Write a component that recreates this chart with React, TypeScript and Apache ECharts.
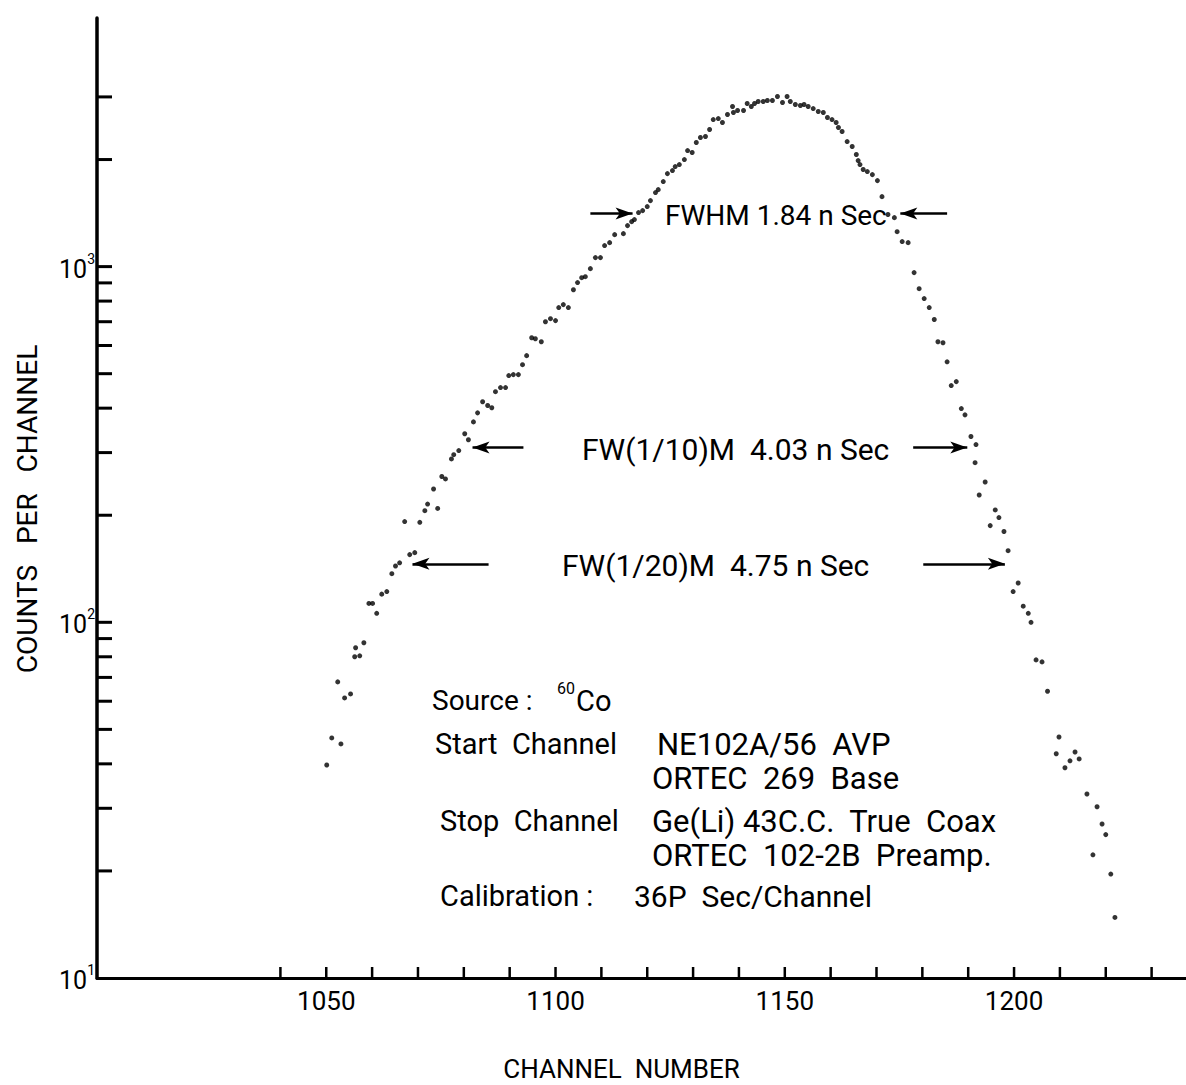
import React, { useEffect, useRef } from "react";
import * as echarts from "echarts";

// Time spectrum of 60Co coincidences: counts per channel versus channel number
const channels = [
  1050.1, 1051.2, 1052.5, 1053.2, 1054.0, 1055.3, 1056.2, 1056.4, 1057.3, 1058.2,
  1059.3, 1060.1, 1061.0, 1062.1, 1063.2, 1064.3, 1065.1, 1066.0, 1067.1, 1068.2,
  1069.3, 1070.4, 1071.5, 1072.1, 1073.4, 1074.3, 1075.2, 1076.0, 1077.3, 1077.8,
  1078.9, 1080.2, 1081.0, 1082.1, 1083.0, 1084.1, 1085.2, 1086.1, 1086.9, 1088.0,
  1089.1, 1089.8, 1090.8, 1091.9, 1092.8, 1093.7, 1094.8, 1095.6, 1096.9, 1097.8,
  1098.9, 1100.0, 1100.7, 1101.7, 1102.8, 1103.9, 1104.8, 1105.7, 1106.5, 1107.6,
  1108.7, 1109.8, 1110.7, 1111.8, 1112.9, 1114.8, 1115.7, 1116.6, 1117.2, 1118.1,
  1119.0, 1120.0, 1120.7, 1121.8, 1122.4, 1123.5, 1124.4, 1125.5, 1126.1, 1127.0,
  1128.1, 1128.8, 1129.8, 1130.7, 1131.6, 1132.7, 1133.6, 1134.4, 1135.5, 1136.4,
  1137.5, 1138.6, 1138.8, 1139.7, 1141.0, 1141.8, 1142.7, 1143.4, 1144.2, 1145.3,
  1146.2, 1147.3, 1148.4, 1149.5, 1150.5, 1151.2, 1152.3, 1153.4, 1154.2, 1155.1,
  1156.2, 1157.3, 1158.4, 1159.3, 1160.3, 1161.2, 1161.7, 1162.5, 1163.6, 1164.7,
  1165.6, 1166.0, 1166.4, 1167.1, 1168.0, 1169.1, 1170.2, 1171.2, 1172.5, 1173.9,
  1174.5, 1175.6, 1176.9, 1178.2, 1179.3, 1180.4, 1181.5, 1182.6, 1183.4, 1184.5,
  1185.4, 1186.3, 1187.4, 1188.5, 1189.3, 1190.6, 1191.5, 1191.7, 1192.4, 1193.7,
  1194.8, 1195.9, 1196.7, 1197.8, 1198.7, 1199.8, 1200.9, 1202.0, 1203.1, 1203.7,
  1204.8, 1206.1, 1207.3, 1209.2, 1209.8, 1211.1, 1212.2, 1213.3, 1214.2, 1215.9,
  1217.2, 1218.1, 1219.2, 1220.0, 1221.1, 1222.0,
];

const counts = [
  39.7, 47.3, 68.0, 45.5, 61.3, 62.9, 80.0, 84.8, 80.5, 87.6,
  113, 113, 106, 120, 122, 137, 144, 147, 192, 155,
  157, 191, 206, 215, 237, 209, 257, 253, 288, 296,
  304, 339, 326, 366, 388, 417, 407, 401, 445, 457,
  457, 494, 497, 497, 530, 562, 631, 627, 615, 700,
  714, 705, 767, 782, 767, 861, 902, 931, 937, 987,
  1060, 1060, 1146, 1168, 1230, 1238, 1304, 1338, 1356, 1419,
  1437, 1475, 1533, 1615, 1646, 1734, 1826, 1862, 1911, 1936,
  2000, 2120, 2093, 2233, 2307, 2322, 2429, 2591, 2608, 2542,
  2677, 2819, 2712, 2748, 2748, 2874, 2819, 2874, 2912, 2912,
  2931, 2931, 3008, 2893, 3008, 2912, 2856, 2837, 2856, 2819,
  2782, 2729, 2712, 2625, 2591, 2542, 2461, 2398, 2247, 2176,
  2066, 1987, 1936, 1875, 1850, 1814, 1745, 1573, 1401, 1373,
  1254, 1176, 1168, 962, 867, 813, 767, 710, 615, 611,
  540, 463, 475, 399, 383, 333, 281, 316, 228, 248,
  187, 207, 197, 180, 159, 122, 129, 111, 106, 100,
  78.4, 77.4, 64.0, 42.7, 47.6, 39.0, 40.8, 43.2, 41.3, 32.9,
  22.2, 30.3, 27.1, 25.3, 19.6, 14.8,
];

// Inward tick marks on both axes
const yTickValues = [
  20, 30, 40, 50, 60, 70, 80, 90, 100,
  200, 300, 400, 500, 600, 700, 800, 900, 1000,
  2000, 3000,
];
const xTickValues = [
  1040, 1050, 1060, 1070, 1080, 1090, 1100, 1110, 1120, 1130,
  1140, 1150, 1160, 1170, 1180, 1190, 1200, 1210, 1220, 1230,
];
const xLabelValues = [1050, 1100, 1150, 1200];
const yLabelValues = [10, 100, 1000];

// Width markers: [from channel, to channel (arrow tip), count level]
const widthArrows = [
  [1107.6, 1116.8, 1410],
  [1185.4, 1175.2, 1410],
  [1093.0, 1081.9, 310],
  [1178.0, 1189.8, 310],
  [1085.4, 1068.8, 146],
  [1180.2, 1198.0, 146],
];

const FONT = "Roboto, 'DejaVu Sans', sans-serif";
const X_MIN = 1000;
const X_MAX = 1237.5;
const Y_MIN = 10;
const Y_MAX = 5000;

function txt(text: string, x: number, y: number, size: number) {
  return {
    type: "text",
    x,
    y,
    silent: true,
    style: {
      text,
      fill: "#000",
      fontSize: size,
      fontFamily: FONT,
      textAlign: "left",
      textVerticalAlign: "middle",
    },
  };
}

export default function App() {
  const ref = useRef<HTMLDivElement>(null);

  useEffect(() => {
    if (!ref.current) return;
    const chart = echarts.init(ref.current, null, { renderer: "svg" });

    const points = channels.map((c, i) => [c, counts[i]]);

    chart.setOption({
      animation: false,
      backgroundColor: "#fff",
      grid: {
        left: 97,
        right: 0,
        top: 18,
        bottom: 107,
        containLabel: false,
        outerBoundsMode: "none",
      },
      xAxis: {
        type: "value",
        min: X_MIN,
        max: X_MAX,
        interval: 50,
        name: "CHANNEL  NUMBER",
        nameLocation: "middle",
        nameGap: 78,
        nameTextStyle: {
          color: "#000",
          fontSize: 26,
          fontFamily: FONT,
          padding: [0, 40, 0, 0],
        },
        axisLine: { show: true, lineStyle: { color: "#000", width: 3 } },
        axisTick: { show: false },
        splitLine: { show: false },
        axisLabel: {
          showMinLabel: false,
          showMaxLabel: false,
          color: "#000",
          fontSize: 26,
          fontFamily: FONT,
          margin: 10,
          formatter: (v: number) => (xLabelValues.includes(v) ? String(v) : ""),
        },
      },
      yAxis: {
        type: "log",
        logBase: 10,
        min: Y_MIN,
        max: Y_MAX,
        name: "COUNTS   PER   CHANNEL",
        nameLocation: "middle",
        nameRotate: 90,
        nameGap: 56,
        nameTextStyle: {
          color: "#000",
          fontSize: 28,
          fontFamily: FONT,
          padding: [0, 22, 0, 0],
        },
        axisLine: { show: true, lineStyle: { color: "#000", width: 3.5 } },
        axisTick: { show: false },
        splitLine: { show: false },
        minorTick: { show: false },
        axisLabel: {
          showMaxLabel: false,
          color: "#000",
          margin: 2,
          fontFamily: FONT,
          formatter: (v: number) => {
            const hit = yLabelValues.find((t) => Math.abs(t - v) / t < 1e-6);
            if (!hit) return "";
            const e = Math.round(Math.log10(hit));
            return `{b|10}{s|${e}}`;
          },
          rich: {
            b: { fontSize: 25, fontFamily: FONT, color: "#000", lineHeight: 30, verticalAlign: "bottom" },
            s: { fontSize: 14, fontFamily: FONT, color: "#000", lineHeight: 14, verticalAlign: "top" },
          },
        },
      },
      series: [
        {
          type: "scatter",
          name: "counts",
          data: points,
          symbol: "circle",
          symbolSize: 5,
          itemStyle: { color: "#000" },
          silent: true,
          z: 4,
          markLine: {
            silent: true,
            symbol: ["none", "arrow"],
            symbolSize: [9, 17],
            label: { show: false },
            lineStyle: { color: "#000", width: 2.5, type: "solid" },
            data: widthArrows.map(([x1, x2, y]) => [
              { coord: [x1, y] },
              { coord: [x2, y] },
            ]),
          },
        },
        {
          type: "custom",
          name: "yTicks",
          coordinateSystem: "cartesian2d",
          silent: true,
          clip: false,
          z: 3,
          data: yTickValues.map((v) => [X_MIN, v]),
          renderItem: (_p: any, api: any) => {
            const pt = api.coord([api.value(0), api.value(1)]);
            return {
              type: "line",
              shape: { x1: pt[0], y1: pt[1], x2: pt[0] + 15, y2: pt[1] },
              style: { stroke: "#000", lineWidth: 3 },
            };
          },
        },
        {
          type: "custom",
          name: "xTicks",
          coordinateSystem: "cartesian2d",
          silent: true,
          clip: false,
          z: 3,
          data: xTickValues.map((c) => [c, Y_MIN]),
          renderItem: (_p: any, api: any) => {
            const pt = api.coord([api.value(0), api.value(1)]);
            return {
              type: "line",
              shape: { x1: pt[0], y1: pt[1], x2: pt[0], y2: pt[1] - 11 },
              style: { stroke: "#000", lineWidth: 2.5 },
            };
          },
        },
      ],
      graphic: [
        txt("FWHM 1.84 n Sec", 665, 215, 28),
        txt("FW(1/10)M  4.03 n Sec", 582, 449, 30),
        txt("FW(1/20)M  4.75 n Sec", 562, 565, 30),
        txt("Source :", 432, 700, 28),
        txt("60", 557, 688, 16),
        txt("Co", 576, 701, 29),
        txt("Start  Channel", 435, 744, 29),
        txt("NE102A/56  AVP", 657, 744, 31),
        txt("ORTEC  269  Base", 652, 778, 31),
        txt("Stop  Channel", 440, 821, 29),
        txt("Ge(Li) 43C.C.  True  Coax", 652, 821, 31),
        txt("ORTEC  102-2B  Preamp.", 652, 855, 31),
        txt("Calibration :", 440, 896, 29),
        txt("36P  Sec/Channel", 634, 896, 30),
      ],
    });

    return () => chart.dispose();
  }, []);

  return (
    <div
      ref={ref}
      style={{ position: "absolute", left: 0, top: 0, width: 1186, height: 1085, background: "#fff" }}
    />
  );
}
